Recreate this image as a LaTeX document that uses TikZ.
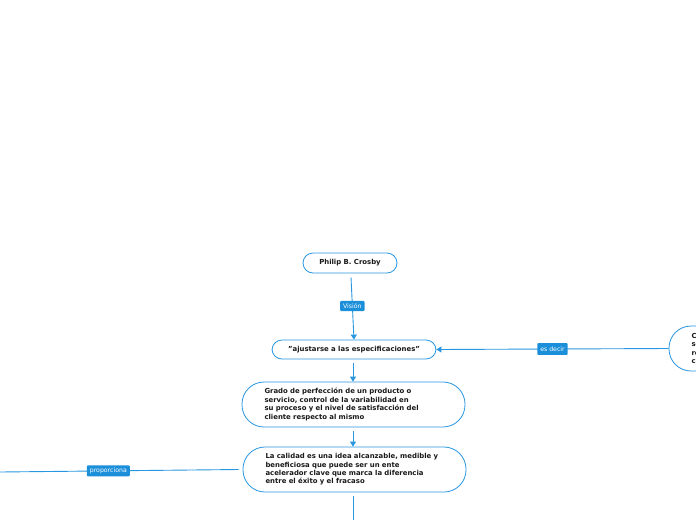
\documentclass[tikz,border=0pt]{standalone}
\usepackage{fontspec}
\setmainfont{DejaVu Sans}
\usetikzlibrary{arrows.meta}
\definecolor{lineblue}{RGB}{40,150,225}
\definecolor{labelblue}{RGB}{27,143,218}
\definecolor{txt}{RGB}{25,25,25}
\tikzset{
  pill/.style={draw=lineblue, line width=0.8pt, fill=white, rounded corners=10pt,
    font=\fontsize{6.9}{8.4}\selectfont\bfseries, text=txt, inner sep=0pt},
  bigpill/.style={pill, rounded corners=22pt, minimum width=223pt, minimum height=45pt,
    text width=178pt, align=left},
  conn/.style={draw=lineblue, line width=0.9pt},
  arr/.style={conn, -{Triangle[width=6pt,length=5pt]}},
  lbl/.style={fill=labelblue, text=white, font=\fontsize{6.2}{7}\selectfont,
    rounded corners=1pt, inner xsep=3pt, inner ysep=2.5pt}
}
\begin{document}
\begin{tikzpicture}[x=1pt,y=-1pt]
\useasboundingbox (0,0) rectangle (696,520);
\clip (0,0) rectangle (696,520);
\node[pill, minimum width=94pt, minimum height=20pt] (crosby) at (350,263) {Philip B. Crosby};
\node[pill, minimum width=164pt, minimum height=19pt] (ajustar) at (354,349.5) {"ajustarse a las especificaciones"};
\node[bigpill] (grado) at (353.5,404.5) {Grado de perfección de un producto o\\servicio, control de la variabilidad en\\su proceso y el nivel de satisfacción del\\cliente respecto al mismo};
\node[bigpill] (calidad) at (354.5,469.5) {La calidad es una idea alcanzable, medible y\\beneficiosa que puede ser un ente\\acelerador clave que marca la diferencia\\entre el éxito y el fracaso};
\node[bigpill] (conform) at (780.5,348.5) {Conformidad con los requisitos,\\se trata de cumplir con los\\requerimientos del\\cliente};
\coordinate (leftend) at (0,472);
\coordinate (bottomend) at (353,520);
\draw[arr] ([xshift=1pt,yshift=-4pt]crosby.south) -- node[lbl, pos=0.46]{Visión} (ajustar.north);
\draw[arr] (conform.west) -- node[lbl, pos=0.5, inner ysep=3.5pt]{es decir} (ajustar.east);
\draw[arr] ([xshift=-1pt,yshift=-4pt]ajustar.south) -- ([xshift=-0.5pt]grado.north);
\draw[arr] ([xshift=-0.5pt,yshift=-4pt]grado.south) -- ([xshift=-1.5pt]calidad.north);
\draw[conn] ([xshift=-4pt]calidad.west) -- node[lbl, pos=0.546]{proporciona} (leftend);
\draw[conn] ([xshift=-1.5pt,yshift=-4pt]calidad.south) -- (bottomend);
\end{tikzpicture}
\end{document}
